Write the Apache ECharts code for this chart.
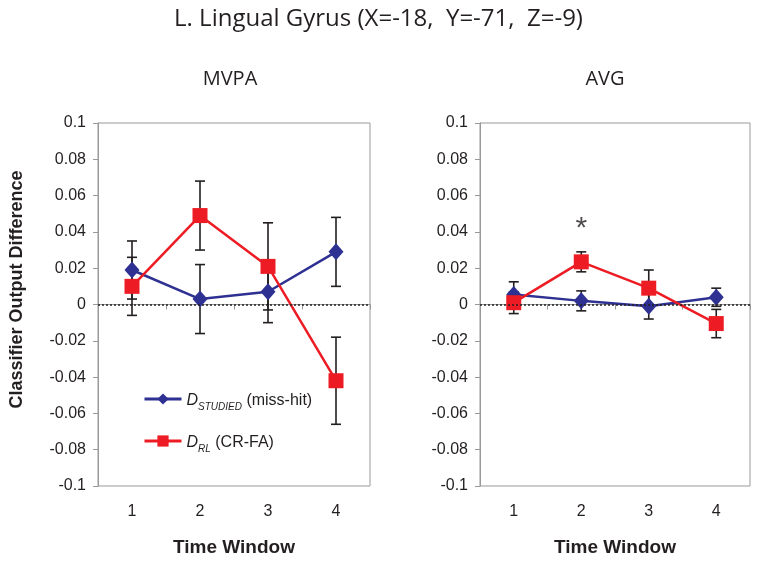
<!DOCTYPE html>
<html>
<head>
    <meta charset="utf-8" />
    <title>L. Lingual Gyrus</title>
    <script src="https://cdn.jsdelivr.net/npm/echarts@6/dist/echarts.min.js"></script>
    <style>
        html, body { margin: 0; padding: 0; background: #fff; }
    </style>
</head>
<body>
    <div id="main" style="width: 757px; height: 562px;"></div>
    <script type="text/javascript">
        // data
        var timeWindows = ['1', '2', '3', '4'];
        var yTicks = [-0.1, 0.1, 0.02];

        var mvpaStudied = [0.019, 0.003, 0.007, 0.029];
        var mvpaStudiedErr = [0.016, 0.019, 0.017, 0.019];
        var mvpaRL = [0.010, 0.049, 0.021, -0.042];
        var mvpaRLErr = [0.016, 0.019, 0.024, 0.024];

        var avgStudied = [0.0055, 0.002, -0.001, 0.004];
        var avgStudiedErr = [0.007, 0.0055, 0.007, 0.005];
        var avgRL = [0.001, 0.0235, 0.009, -0.0105];
        var avgRLErr = [0.006, 0.0055, 0.010, 0.0078];

        var starPoint = [1, 0.0415];

        var BLUE = '#2e3192';
        var RED = '#ed1c24';
        var INK = '#231f20';
        var FONT = "'Liberation Sans', Arial, sans-serif";
        var TFONT = "'Open Sans', sans-serif";

        var myChart = echarts.init(document.getElementById('main'));

        function errData(vals, errs) {
            var out = [];
            for (var i = 0; i < vals.length; i++) {
                out.push([i, vals[i] - errs[i], vals[i] + errs[i]]);
            }
            return out;
        }

        function renderErr(params, api) {
            var lo = api.coord([api.value(0), api.value(1)]);
            var hi = api.coord([api.value(0), api.value(2)]);
            var w = 5;
            var st = { stroke: INK, lineWidth: 1.6 };
            return {
                type: 'group',
                children: [
                    { type: 'line', shape: { x1: lo[0], y1: lo[1], x2: hi[0], y2: hi[1] }, style: st },
                    { type: 'line', shape: { x1: hi[0] - w, y1: hi[1], x2: hi[0] + w, y2: hi[1] }, style: st },
                    { type: 'line', shape: { x1: lo[0] - w, y1: lo[1], x2: lo[0] + w, y2: lo[1] }, style: st }
                ]
            };
        }

        function xAxisFor(idx) {
            return {
                type: 'category',
                gridIndex: idx,
                data: timeWindows,
                position: 'bottom',
                axisLine: { lineStyle: { color: '#999', width: 1 } },
                axisTick: { show: true, length: 5, lineStyle: { color: '#999' } },
                axisLabel: { color: INK, fontSize: 16, fontFamily: FONT, margin: 18 },
                name: 'Time Window',
                nameLocation: 'middle',
                nameGap: 52,
                nameTextStyle: { color: INK, fontSize: 19, fontWeight: 'bold', fontFamily: FONT }
            };
        }

        function yAxisFor(idx, withName) {
            var ax = {
                type: 'value',
                gridIndex: idx,
                min: yTicks[0],
                max: yTicks[1],
                interval: yTicks[2],
                axisLine: { show: true, lineStyle: { color: '#999', width: 1 } },
                axisTick: { show: true, length: 5, lineStyle: { color: '#999' } },
                splitLine: { show: false },
                axisLabel: {
                    color: INK, fontSize: 16, fontFamily: FONT, margin: 12,
                    formatter: function (v) { return String(Math.round(v * 100) / 100); }
                }
            };
            if (withName) {
                ax.name = 'Classifier Output Difference';
                ax.nameLocation = 'middle';
                ax.nameGap = 72;
                ax.nameTextStyle = { color: INK, fontSize: 18, fontWeight: 'bold', fontFamily: FONT, padding: [0, 0, 0, 30] };
            }
            return ax;
        }

        function lineSeries(name, idx, vals, color, symbol, size, withZero) {
            var s = {
                name: name,
                type: 'line',
                xAxisIndex: idx,
                yAxisIndex: idx,
                data: vals,
                symbol: symbol,
                symbolSize: size,
                showAllSymbol: true,
                z: 3,
                lineStyle: { color: color, width: 2.5 },
                itemStyle: { color: color, borderWidth: 0 },
                emphasis: { disabled: true }
            };
            if (withZero) {
                s.markLine = {
                    silent: true,
                    symbol: 'none',
                    label: { show: false },
                    lineStyle: { color: INK, type: [2, 2], width: 1.6 },
                    data: [{ yAxis: 0 }]
                };
            }
            return s;
        }

        function errSeries(idx, vals, errs) {
            return {
                type: 'custom',
                xAxisIndex: idx,
                yAxisIndex: idx,
                data: errData(vals, errs),
                renderItem: renderErr,
                z: 2,
                silent: true
            };
        }

        var legendRich = {
            d: { fontSize: 16, fontStyle: 'italic', fontFamily: FONT, color: INK, lineHeight: 20, verticalAlign: 'bottom' },
            s: { fontSize: 10, fontStyle: 'italic', fontFamily: FONT, color: INK, lineHeight: 20, verticalAlign: 'bottom', padding: [0, 0, -3, 0] },
            n: { fontSize: 16, fontFamily: FONT, color: INK, lineHeight: 20, verticalAlign: 'bottom' }
        };

        var option = {
            animation: false,
            backgroundColor: '#fff',
            title: [
                { text: 'L. Lingual Gyrus (X=-18,  Y=-71,  Z=-9)', left: 'center', top: 2,
                  textStyle: { color: INK, fontSize: 24, fontWeight: 'normal', fontFamily: TFONT } },
                { text: 'MVPA', left: 225, top: 64, textAlign: 'center',
                  textStyle: { color: INK, fontSize: 20, fontWeight: 'normal', fontFamily: TFONT } },
                { text: 'AVG', left: 600, top: 64, textAlign: 'center',
                  textStyle: { color: INK, fontSize: 20, fontWeight: 'normal', fontFamily: TFONT } }
            ],
            legend: {
                data: ['studied', 'rl'],
                orient: 'vertical',
                left: 138,
                top: 388,
                itemWidth: 37,
                itemHeight: 14,
                itemGap: 23,
                selectedMode: false,
                lineStyle: { width: 3 },
                formatter: function (name) {
                    if (name === 'studied') return '{d|D}{s|STUDIED}{n| (miss-hit)}';
                    return '{d|D}{s|RL}{n| (CR-FA)}';
                },
                textStyle: { rich: legendRich }
            },
            grid: [
                { left: 98, top: 123, width: 272, height: 364, show: true, borderColor: '#999', borderWidth: 1, backgroundColor: 'transparent' },
                { left: 480, top: 123, width: 270, height: 365, show: true, borderColor: '#999', borderWidth: 1, backgroundColor: 'transparent' }
            ],
            xAxis: [xAxisFor(0), xAxisFor(1)],
            yAxis: [yAxisFor(0, true), yAxisFor(1, false)],
            series: [
                errSeries(0, mvpaStudied, mvpaStudiedErr),
                errSeries(0, mvpaRL, mvpaRLErr),
                lineSeries('studied', 0, mvpaStudied, BLUE, 'diamond', [15, 17], true),
                lineSeries('rl', 0, mvpaRL, RED, 'rect', 15, false),

                errSeries(1, avgStudied, avgStudiedErr),
                errSeries(1, avgRL, avgRLErr),
                lineSeries('studied', 1, avgStudied, BLUE, 'diamond', [15, 17], true),
                lineSeries('rl', 1, avgRL, RED, 'rect', 15, false),
                {
                    type: 'scatter',
                    xAxisIndex: 1,
                    yAxisIndex: 1,
                    data: [starPoint],
                    symbolSize: 1,
                    itemStyle: { color: 'transparent' },
                    silent: true,
                    label: {
                        show: true,
                        position: 'inside',
                        formatter: '*',
                        color: INK,
                        fontSize: 30,
                        fontFamily: FONT
                    }
                }
            ]
        };

        myChart.setOption(option);
        window.addEventListener('resize', function () {
            myChart.resize();
        });
    </script>
</body>
</html>
